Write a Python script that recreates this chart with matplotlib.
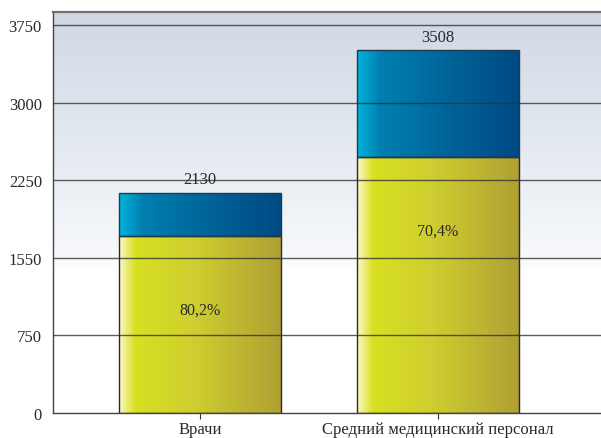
import numpy as np
import matplotlib.pyplot as plt
from matplotlib.colors import LinearSegmentedColormap

# Численность персонала: всего и доля нижнего сегмента
categories = ["Врачи", "Средний медицинский персонал"]
totals = [2130, 3508]
shares = [80.2, 70.4]
share_text = ["80,2%", "70,4%"]

ytick_values = [0, 750, 1500, 2250, 3000, 3750]
ytick_labels = ["0", "750", "1550", "2250", "3000", "3750"]

plt.rcParams['font.family'] = ['Liberation Serif', 'DejaVu Serif']

yellow = LinearSegmentedColormap.from_list(
    "yel", [(0.0, "#fdf8c8"), (0.10, "#d8e020"), (0.45, "#cfcf30"), (1.0, "#b0a034")])
blue = LinearSegmentedColormap.from_list(
    "blu", [(0.0, "#00b4dc"), (0.14, "#0080b0"), (0.55, "#006499"), (1.0, "#004a84")])
sky = LinearSegmentedColormap.from_list(
    "sky", [(0.0, "#ffffff"), (0.35, "#ffffff"), (0.40, "#f6f8fb"), (1.0, "#cfd8e4")])

fig = plt.figure(figsize=(6.01, 4.39), dpi=100)
ax = fig.add_axes([53 / 601, 1 - 414 / 439, 1 - 53 / 601, 401 / 439])

ymax = 3876
x = np.arange(len(categories))
width = 0.68
ax.set_xlim(-0.618, 1.685)
ax.set_ylim(0, ymax)

# фон с вертикальным градиентом
grad_v = np.linspace(0, 1, 256).reshape(-1, 1)
ax.imshow(grad_v, cmap=sky, aspect='auto', origin='lower',
          extent=(-0.618, 1.685, 0, ymax), zorder=0)

lower = [t * s / 100 for t, s in zip(totals, shares)]
upper = [t - l for t, l in zip(totals, lower)]

bars_low = ax.bar(x, lower, width, color='none', edgecolor='#2a2a2a', linewidth=1.0, zorder=3)
bars_up = ax.bar(x, upper, width, bottom=lower, color='none', edgecolor='#1f3a4a',
                 linewidth=1.0, zorder=3)

grad_h = np.linspace(0, 1, 256).reshape(1, -1)
for bars, cmap in ((bars_low, yellow), (bars_up, blue)):
    for p in bars:
        x0, y0 = p.get_x(), p.get_y()
        im = ax.imshow(grad_h, cmap=cmap, aspect='auto',
                       extent=(x0, x0 + p.get_width(), y0, y0 + p.get_height()), zorder=2)
        im.set_clip_path(p)

# сетка поверх столбцов
for v in ytick_values[1:]:
    ax.axhline(v, color='#333333', linewidth=1.0, alpha=0.8, zorder=4)

for xi, t in zip(x, totals):
    ax.annotate(str(t), (xi, t), xytext=(0, 4), textcoords='offset points',
                ha='center', va='bottom', fontsize=12, color='#2a2a2a', zorder=5)
for xi, l, txt in zip(x, lower, share_text):
    ax.annotate(txt, (xi, l), xytext=(0, -53), textcoords='offset points',
                ha='center', va='center', fontsize=11.5, color='#2a2a2a', zorder=5)

ax.set_yticks(ytick_values)
ax.set_yticklabels(ytick_labels)
ax.set_xticks(x)
ax.set_xticklabels(categories)
ax.tick_params(axis='y', length=0, pad=8, labelsize=12, labelcolor='#2a2a2a')
ax.tick_params(axis='x', length=4, width=0.8, color='#333333', pad=2,
               labelsize=12, labelcolor='#2a2a2a')

ax.spines['right'].set_visible(False)
ax.spines['top'].set_color('#707070')
ax.spines['top'].set_linewidth(1.6)
for s in ('left', 'bottom'):
    ax.spines[s].set_color('#444444')
    ax.spines[s].set_linewidth(1.0)

fig.savefig("out.png", dpi=100)
